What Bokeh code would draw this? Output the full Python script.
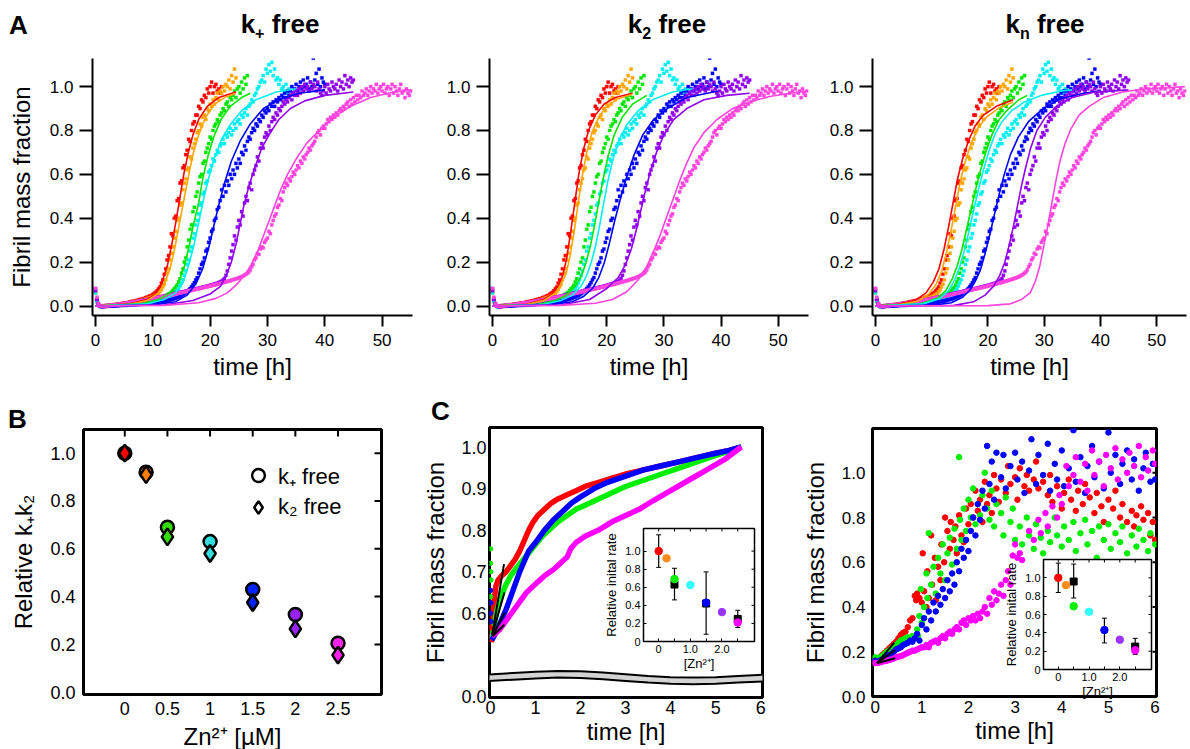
from bokeh.plotting import figure
from bokeh.models import (Range1d, FixedTicker, GridBox, Column, Div, ColumnDataSource,
                          Whisker, Legend, LegendItem)
from bokeh.embed import file_html
from bokeh.resources import INLINE

FONT = "Liberation Sans"

# ---------------- Panel A : aggregation kinetics (sampled every 0.25 h) ----------------
SAMPLE_STEP_H = 0.25
A_NAMES = ["0", "0.25", "0.5", "1", "1.5", "2", "2.5"]
A_COLORS = ["#ff0000", "#ffa500", "#00e600", "#00f0f0", "#0000ff", "#9000ee", "#ff44dd"]

a_red = [0.07,0.03,0.01,0.00, 0.00,-0.005,0.00,0.002, 0.00,0.003,0.004,0.002, 0.005,0.006,0.004,0.008,
         0.009,0.010,0.008,0.012, 0.013,0.012,0.016,0.015, 0.019,0.018,0.022,0.021, 0.025,0.024,0.028,0.030,
         0.031,0.034,0.033,0.038, 0.040,0.042,0.046,0.048, 0.053,0.058,0.062,0.070, 0.078,0.088,0.105,0.120,
         0.145,0.17,0.21,0.23, 0.27,0.33,0.32,0.40, 0.41,0.48,0.49,0.56, 0.57,0.63,0.64,0.69,
         0.71,0.76,0.75,0.80, 0.83,0.84,0.87,0.87, 0.91,0.90,0.94,0.93, 0.96,0.95,0.99,0.97,
         1.00,1.02,0.97,1.00, 1.01,0.98,0.99,0.97, 1.00]
a_orange = [0.06,0.02,0.005,0.00, -0.004,0.00,0.001,0.00, 0.002,0.001,0.003,0.004, 0.004,0.005,0.006,0.006,
            0.007,0.008,0.009,0.009, 0.010,0.011,0.012,0.013, 0.014,0.015,0.017,0.018, 0.019,0.021,0.022,0.024,
            0.025,0.027,0.029,0.031, 0.033,0.035,0.037,0.040, 0.042,0.045,0.049,0.053, 0.058,0.066,0.075,0.088,
            0.10,0.12,0.15,0.17, 0.21,0.24,0.27,0.31, 0.34,0.39,0.40,0.46, 0.47,0.53,0.56,0.58,
            0.62,0.63,0.68,0.67, 0.72,0.74,0.76,0.79, 0.80,0.83,0.82,0.86, 0.87,0.85,0.90,0.89,
            0.92,0.91,0.94,0.92, 0.95,0.97,0.94,0.98, 0.97,1.00,0.98,1.01, 1.00,1.03,0.99,1.05,
            1.02,1.08,1.04]
a_green = [0.065,0.025,0.008,0.00, 0.00,-0.003,0.00,0.001, 0.00,0.002,0.001,0.003, 0.003,0.004,0.004,0.005,
           0.005,0.006,0.007,0.007, 0.008,0.009,0.010,0.010, 0.011,0.012,0.013,0.014, 0.015,0.016,0.017,0.018,
           0.019,0.020,0.021,0.022, 0.023,0.024,0.026,0.027, 0.028,0.030,0.031,0.033, 0.034,0.036,0.038,0.040,
           0.043,0.046,0.050,0.054, 0.058,0.063,0.070,0.078, 0.085,0.095,0.11,0.125, 0.15,0.17,0.20,0.22,
           0.27,0.30,0.35,0.37, 0.43,0.45,0.50,0.52, 0.56,0.59,0.60,0.65, 0.66,0.70,0.72,0.74,
           0.77,0.76,0.80,0.82, 0.83,0.85,0.84,0.87, 0.88,0.90,0.89,0.92, 0.93,0.91,0.95,0.94,
           0.96,0.98,0.95,0.99, 1.00,0.97,1.02,0.99, 1.04,1.01,1.05]
a_cyan = [0.06,0.02,0.005,0.00, -0.005,0.00,-0.002,0.00, 0.001,0.00,0.002,0.002, 0.003,0.003,0.004,0.004,
          0.005,0.005,0.006,0.006, 0.007,0.007,0.008,0.009, 0.009,0.010,0.011,0.011, 0.012,0.013,0.014,0.014,
          0.015,0.016,0.017,0.018, 0.019,0.020,0.021,0.022, 0.023,0.024,0.025,0.026, 0.027,0.028,0.029,0.030,
          0.032,0.034,0.036,0.038, 0.041,0.045,0.050,0.055, 0.062,0.070,0.080,0.092, 0.105,0.12,0.14,0.16,
          0.19,0.21,0.25,0.27, 0.31,0.33,0.37,0.39, 0.42,0.46,0.47,0.51, 0.52,0.56,0.57,0.61,
          0.62,0.64,0.67,0.66, 0.69,0.71,0.70,0.73, 0.74,0.76,0.74,0.78, 0.77,0.79,0.81,0.78,
          0.80,0.83,0.81,0.84, 0.85,0.83,0.87,0.86, 0.88,0.90,0.87,0.91, 0.92,0.94,0.93,0.96,
          0.97,0.99,1.00,1.02, 1.03,1.05,1.02,1.08, 1.06,1.10,1.07,1.11, 1.05,1.08,1.03,1.04,
          1.01,1.03,0.99,1.00, 0.98,1.01,0.97,0.99, 0.98]
a_blue = [0.08,0.03,0.01,0.00, 0.00,-0.004,0.00,0.00, 0.00,0.001,0.00,0.001, 0.001,0.001,0.002,0.002,
          0.002,0.003,0.003,0.003, 0.004,0.004,0.004,0.005, 0.005,0.005,0.006,0.006, 0.007,0.007,0.008,0.008,
          0.009,0.009,0.010,0.010, 0.011,0.012,0.012,0.013, 0.014,0.015,0.016,0.017, 0.018,0.019,0.020,0.021,
          0.022,0.024,0.025,0.027, 0.028,0.030,0.032,0.034, 0.036,0.039,0.042,0.045, 0.048,0.052,0.056,0.061,
          0.066,0.072,0.080,0.088, 0.097,0.107,0.12,0.13, 0.15,0.17,0.19,0.20, 0.22,0.25,0.26,0.29,
          0.31,0.34,0.35,0.39, 0.40,0.44,0.45,0.48, 0.53,0.50,0.55,0.52, 0.57,0.55,0.60,0.58,
          0.62,0.60,0.65,0.63, 0.67,0.65,0.70,0.69, 0.73,0.71,0.75,0.77, 0.76,0.79,0.81,0.80,
          0.83,0.82,0.85,0.84, 0.87,0.86,0.89,0.88, 0.90,0.89,0.92,0.91, 0.93,0.91,0.94,0.93,
          0.95,0.94,0.96,0.95, 0.97,0.95,0.98,0.96, 0.98,1.00,0.97,0.99, 1.01,0.98,1.00,1.02,
          0.99,1.03,1.00,1.01, 1.04,0.99,1.02,1.00, 1.13,1.03,1.06,1.01, 1.08,1.00,1.04,1.02, 1.01]
a_purple = [0.07,0.03,0.01,0.00, 0.00,0.00,-0.003,0.00, 0.001,0.002,0.002,0.003, 0.004,0.005,0.005,0.006,
            0.007,0.008,0.009,0.010, 0.011,0.012,0.013,0.014, 0.015,0.016,0.017,0.018, 0.019,0.020,0.021,0.022,
            0.024,0.025,0.026,0.027, 0.029,0.030,0.031,0.033, 0.034,0.035,0.037,0.038, 0.040,0.041,0.042,0.044,
            0.045,0.047,0.048,0.050, 0.051,0.053,0.054,0.056, 0.057,0.059,0.060,0.062, 0.063,0.065,0.066,0.068,
            0.069,0.071,0.072,0.074, 0.075,0.077,0.078,0.080, 0.081,0.083,0.084,0.086, 0.087,0.089,0.091,0.092,
            0.094,0.096,0.098,0.100, 0.102,0.104,0.107,0.110, 0.113,0.118,0.125,0.14, 0.16,0.19,0.22,0.25,
            0.28,0.32,0.30,0.36, 0.39,0.37,0.43,0.41, 0.47,0.50,0.48,0.54, 0.56,0.53,0.60,0.62,
            0.64,0.68,0.66,0.72, 0.74,0.72,0.77,0.79, 0.78,0.82,0.80,0.84, 0.86,0.85,0.88,0.87,
            0.90,0.89,0.91,0.93, 0.92,0.94,0.93,0.95, 0.96,0.94,0.97,0.96, 0.98,0.96,0.99,0.97,
            1.00,0.98,1.01,0.99, 1.00,0.98,1.02,0.99, 1.01,1.00,0.98,1.02, 0.99,0.97,0.96,0.98,
            1.00,0.97,1.01,0.99, 0.98,1.02,1.00,0.99, 1.01,0.98,1.03,1.00, 1.02,0.99,1.05,1.01,
            1.03,1.00,1.04,1.02, 1.03]
a_magenta = [0.08,0.04,0.012,0.00, 0.00,-0.003,0.00,0.001, 0.002,0.002,0.003,0.004, 0.004,0.005,0.006,0.006,
             0.007,0.008,0.009,0.010, 0.011,0.012,0.013,0.014, 0.015,0.016,0.017,0.018, 0.019,0.020,0.021,0.022,
             0.023,0.024,0.025,0.027, 0.028,0.029,0.030,0.032, 0.033,0.034,0.036,0.037, 0.038,0.040,0.041,0.042,
             0.044,0.045,0.047,0.048, 0.049,0.051,0.052,0.054, 0.055,0.057,0.058,0.060, 0.061,0.063,0.064,0.066,
             0.067,0.069,0.070,0.072, 0.073,0.075,0.076,0.078, 0.079,0.081,0.082,0.084, 0.085,0.087,0.088,0.090,
             0.091,0.093,0.095,0.096, 0.098,0.100,0.101,0.103, 0.105,0.107,0.108,0.110, 0.112,0.114,0.116,0.118,
             0.120,0.122,0.124,0.126, 0.128,0.131,0.134,0.137, 0.141,0.145,0.150,0.155, 0.165,0.18,0.19,0.21,
             0.22,0.24,0.235,0.26, 0.27,0.265,0.29,0.30, 0.31,0.34,0.33,0.37, 0.39,0.41,0.42,0.45,
             0.46,0.49,0.48,0.52, 0.54,0.56,0.55,0.58, 0.57,0.59,0.61,0.60, 0.62,0.64,0.63,0.66,
             0.65,0.68,0.67,0.69, 0.70,0.72,0.71,0.73, 0.74,0.75,0.77,0.79, 0.80,0.78,0.81,0.82,
             0.81,0.83,0.85,0.84, 0.86,0.85,0.87,0.86, 0.88,0.87,0.89,0.90, 0.89,0.91,0.90,0.92,
             0.93,0.91,0.94,0.92, 0.95,0.93,0.96,0.94, 0.96,0.95,0.98,0.96, 0.97,0.99,0.96,0.98,
             1.00,0.97,0.99,0.98, 1.01,0.97,0.99,1.00, 0.98,1.01,0.97,0.99, 1.00,0.96,0.99,1.01,
             0.97,1.00,0.98,0.96, 0.99,1.01,0.97,0.98, 0.95,0.99,0.97,0.96, 0.98]
A_DATA = [a_red, a_orange, a_green, a_cyan, a_blue, a_purple, a_magenta]

# fitted curves (time knots, value) for each panel; order red..magenta
fit_kplus = [
    ([0,6,9,10.5,11.5,12.5,13.3,14,14.7,15.4,16.2,17,18,19.5,21.5,24.5],
     [0,0.01,0.03,0.055,0.1,0.18,0.28,0.38,0.49,0.6,0.7,0.78,0.85,0.91,0.95,0.975]),
    ([0,6,9,11,12,13,13.8,14.6,15.4,16.2,17,18,19.2,20.8,22.5,24.5],
     [0,0.008,0.025,0.06,0.1,0.17,0.26,0.37,0.48,0.59,0.69,0.78,0.86,0.92,0.95,0.97]),
    ([0,8,11,13,14.5,15.5,16.3,17,18,18.7,19.6,20.6,21.9,23.5,25.5,27],
     [0,0.01,0.03,0.06,0.11,0.18,0.27,0.36,0.47,0.58,0.68,0.77,0.85,0.91,0.95,0.97]),
    ([0,9,12,14,15.3,16.3,17.2,18,18.8,19.7,20.7,22,23.6,25.5,28,31.5,35],
     [0,0.01,0.03,0.06,0.11,0.19,0.28,0.38,0.48,0.58,0.67,0.76,0.83,0.89,0.94,0.975,0.99]),
    ([0,10,14,16,17.5,18.7,19.7,20.6,21.5,22.5,23.7,25.2,27,29.3,32,35.5,40],
     [0,0.005,0.02,0.05,0.1,0.17,0.26,0.36,0.46,0.56,0.66,0.75,0.83,0.9,0.94,0.97,0.985]),
    ([0,12,17,20,21.8,22.8,23.7,24.5,25.2,25.9,26.8,27.8,29,30.5,32,34,36.5,40,45],
     [0,0.005,0.025,0.055,0.09,0.14,0.2,0.28,0.37,0.46,0.55,0.63,0.72,0.79,0.85,0.9,0.935,0.96,0.975]),
    ([0,12,18,21,23,24.7,26,27.2,28.3,29.3,30.3,31.3,32.3,33.5,35,36.8,39,41.5,44.5,48,52,55],
     [0,0.003,0.015,0.035,0.06,0.1,0.14,0.19,0.25,0.32,0.39,0.46,0.53,0.6,0.67,0.74,0.8,0.86,0.91,0.95,0.975,0.985]),
]
fit_k2 = [
    ([0,6,9,10.5,11.5,12.3,13,13.7,14.4,15.1,15.9,16.8,18,19.5,21.5,24.5],
     [0,0.008,0.03,0.055,0.09,0.14,0.22,0.34,0.47,0.6,0.71,0.8,0.87,0.92,0.95,0.97]),
    ([0,6,9,11,12,12.9,13.6,14.3,15,15.7,16.5,17.4,18.6,20,22,24.5],
     [0,0.007,0.025,0.06,0.1,0.15,0.23,0.34,0.47,0.59,0.7,0.79,0.86,0.91,0.945,0.965]),
    ([0,8,11,13,14.5,15.6,16.4,17.1,17.8,18.5,19.3,20.2,21.3,22.7,24.5,27],
     [0,0.008,0.025,0.05,0.09,0.14,0.2,0.27,0.36,0.46,0.57,0.68,0.78,0.86,0.92,0.96]),
    ([0,9,12,14,15.5,16.5,17.3,18,18.7,19.4,20.2,21.1,22.2,23.6,25.5,28,31.5,35],
     [0,0.008,0.025,0.05,0.09,0.14,0.2,0.27,0.36,0.46,0.57,0.67,0.76,0.83,0.89,0.94,0.975,0.99]),
    ([0,10,14,16,17.5,18.6,19.6,20.5,21.4,22.4,23.5,24.8,26.3,28.2,30.6,34,39.5],
     [0,0.005,0.02,0.045,0.08,0.13,0.2,0.29,0.39,0.49,0.59,0.69,0.78,0.85,0.9,0.95,0.98]),
    ([0,12,17,20,22,23.3,24.3,25.2,26,26.8,27.7,28.7,30,31.7,34,37,41,45],
     [0,0.005,0.03,0.08,0.13,0.19,0.26,0.35,0.44,0.53,0.62,0.7,0.78,0.85,0.9,0.94,0.96,0.97]),
    ([0,12,18,21,23.5,25.5,27,28.2,29.3,30.4,31.5,32.6,33.8,35.2,37,39.3,42,45,48.5,52,55],
     [0,0.003,0.013,0.03,0.065,0.12,0.18,0.25,0.32,0.4,0.48,0.56,0.64,0.72,0.79,0.85,0.9,0.93,0.955,0.97,0.98]),
]
fit_kn = [
    ([0,4,7,9,10.3,11.3,12.2,13,13.8,14.6,15.5,16.5,17.7,19.2,21.5,24.5],
     [0,0.008,0.025,0.06,0.11,0.17,0.26,0.36,0.47,0.58,0.67,0.75,0.82,0.87,0.91,0.94]),
    ([0,4,7.5,9.5,10.8,11.8,12.7,13.5,14.3,15.1,16,17,18.2,19.7,21.8,24.5],
     [0,0.006,0.022,0.055,0.1,0.16,0.25,0.35,0.46,0.57,0.66,0.74,0.81,0.86,0.9,0.93]),
    ([0,8,11,12.5,13.6,14.5,15.4,16.2,17,17.8,18.7,19.6,20.7,22,23.7,25.5,27],
     [0,0.01,0.035,0.07,0.12,0.18,0.26,0.35,0.44,0.53,0.62,0.7,0.78,0.85,0.9,0.94,0.96]),
    ([0,8.5,11.5,13,14.1,15,15.9,16.7,17.5,18.3,19.2,20.1,21.2,22.5,24.2,26.5,29.5,33,35],
     [0,0.01,0.035,0.07,0.12,0.18,0.26,0.35,0.44,0.53,0.62,0.7,0.78,0.84,0.89,0.93,0.96,0.98,0.985]),
    ([0,10,13.5,15.5,16.7,17.7,18.6,19.4,20.2,21,21.9,22.9,24,25.4,27.2,29.8,33,37,40],
     [0,0.003,0.015,0.04,0.07,0.11,0.16,0.23,0.31,0.4,0.5,0.6,0.69,0.77,0.84,0.9,0.945,0.97,0.98]),
    ([0,14,17.5,19.5,21,22.1,23,23.8,24.5,25.2,25.9,26.7,27.6,28.7,30.2,32.2,35,39,45],
     [0,0.003,0.02,0.05,0.09,0.14,0.2,0.28,0.36,0.45,0.54,0.63,0.72,0.8,0.86,0.91,0.95,0.975,0.985]),
    ([0,20,24,26,27.5,28.4,29.2,29.9,30.6,31.3,32,32.8,33.7,34.8,36.2,38,40.5,44,48,52,55],
     [0,0.002,0.01,0.03,0.06,0.11,0.18,0.27,0.36,0.46,0.56,0.66,0.74,0.81,0.87,0.91,0.95,0.975,0.99,0.995,1.0]),
]
A_X_TICKS = [0, 10, 20, 30, 40, 50]
A_Y_TICKS = [0.0, 0.2, 0.4, 0.6, 0.8, 1.0]

# ---------------- Panel B ----------------
zn_conc = [0, 0.25, 0.5, 1.0, 1.5, 2.0, 2.5]
rel_kplus_free = [1.0, 0.92, 0.69, 0.63, 0.43, 0.325, 0.205]
rel_k2_free = [1.0, 0.91, 0.65, 0.58, 0.375, 0.265, 0.155]
B_COLORS = ["#ff0000", "#ff8000", "#33dd00", "#33dddd", "#0022ff", "#9922ee", "#ff22ee"]
B_X_TICKS = [0, 0.5, 1.0, 1.5, 2.0, 2.5]
B_X_LABELS = ["0", "0.5", "1", "1.5", "2", "2.5"]

# ---------------- Panel C ----------------
C_COLORS = {"red": "#ff0000", "green": "#00ee00", "blue": "#0000ff", "magenta": "#ff00ff"}
cl_red_t = [0.02,0.05,0.08,0.12,0.17,0.25,0.35,0.45,0.55,0.65,0.75,0.85,0.95,1.05,1.2,1.35,1.5,1.7,1.9,2.1,2.4,2.7,3.0,3.4,3.8,4.2,4.6,5.0,5.3,5.57]
cl_red_v = [0.53,0.57,0.63,0.665,0.68,0.69,0.70,0.715,0.73,0.75,0.775,0.80,0.82,0.835,0.85,0.865,0.875,0.885,0.895,0.905,0.915,0.925,0.935,0.945,0.955,0.965,0.975,0.985,0.992,1.0]
cl_green_t = [0.03,0.08,0.15,0.25,0.35,0.45,0.55,0.7,0.85,1.0,1.15,1.3,1.5,1.7,1.9,2.1,2.4,2.7,3.0,3.4,3.8,4.2,4.6,5.0,5.3,5.57]
cl_green_v = [0.54,0.57,0.61,0.645,0.67,0.69,0.705,0.725,0.745,0.765,0.785,0.80,0.82,0.835,0.85,0.86,0.875,0.89,0.905,0.92,0.935,0.95,0.965,0.98,0.99,1.0]
cl_blue_t = [0.03,0.08,0.15,0.25,0.35,0.45,0.55,0.65,0.75,0.85,1.0,1.2,1.4,1.6,1.8,2.0,2.3,2.6,3.0,3.4,3.8,4.2,4.6,5.0,5.3,5.57]
cl_blue_v = [0.535,0.545,0.56,0.585,0.61,0.64,0.67,0.70,0.725,0.75,0.77,0.80,0.825,0.845,0.865,0.88,0.90,0.915,0.93,0.945,0.955,0.965,0.975,0.985,0.992,1.0]
cl_magenta_t = [0.03,0.1,0.2,0.3,0.4,0.5,0.6,0.7,0.8,0.9,1.0,1.2,1.4,1.6,1.7,1.78,1.9,2.1,2.4,2.7,3.0,3.3,3.6,4.0,4.4,4.8,5.2,5.57]
cl_magenta_v = [0.545,0.55,0.56,0.575,0.59,0.605,0.62,0.635,0.65,0.66,0.67,0.69,0.705,0.725,0.735,0.755,0.77,0.785,0.80,0.82,0.835,0.85,0.87,0.895,0.92,0.945,0.97,1.0]
cl_dots_t = [0.0, 0.0, 0.005, 0.01, 0.0, 0.0, 0.005, 0.0, 0.01, 0.0]
cl_dots_v = [0.755, 0.72, 0.70, 0.68, 0.64, 0.655, 0.625, 0.60, 0.58, 0.565]
cl_dots_c = ["green", "green", "green", "green", "green", "blue", "blue", "blue", "blue", "red"]
cl_fit_t0 = [0.04, 0.04, 0.05, 0.05]
cl_fit_v0 = [0.549, 0.549, 0.545, 0.545]
cl_fit_t1 = [0.30, 0.31, 0.31, 0.31]
cl_fit_v1 = [0.718, 0.65, 0.601, 0.572]
C_LEFT_Y_TICKS = [0.40, 0.6, 0.7, 0.8, 0.9, 1.0]
C_LEFT_Y_LABELS = ["0.0", "0.6", "0.7", "0.8", "0.9", "1.0"]
break_t = [-0.1, 0.5, 1.0, 1.5, 2.0, 2.5, 3.0, 3.5, 4.0, 4.5, 5.0, 5.5, 6.1]
break_top = [0.452, 0.456, 0.459, 0.461, 0.460, 0.457, 0.453, 0.449, 0.446, 0.445, 0.446, 0.449, 0.452]
BREAK_GAP = 0.016

cr_red_t = [0,0.05,0.1,0.15,0.2,0.25,0.3,0.35,0.4,0.45,0.5,0.55,0.6,0.65,0.7,0.75,
            0.8,0.85,0.88,0.9,0.95,1.0,1.02,1.05,1.1,1.12,1.15,1.2,1.22,1.28,1.3,1.35,1.4,1.42,1.48,1.5,
            1.55,1.6,1.62,1.68,1.72,1.75,1.8,1.85,1.9,1.95,2.0,2.05,2.1,2.15,2.2,2.25,2.3,2.35,2.4,2.45,
            2.5,2.55,2.6,2.65,2.7,2.8,2.85,2.9,3.0,3.05,3.1,3.2,3.25,3.3,3.4,3.45,3.5,3.6,3.7,3.75,3.8,
            3.9,4.0,4.05,4.15,4.2,4.3,4.35,4.45,4.5,4.6,4.7,4.75,4.85,4.9,5.0,5.1,5.15,5.25,5.3,5.4,5.5,
            5.55,5.6,5.7,5.75,5.85,5.9,5.95,6.0]
cr_red_v = [0.16,0.165,0.175,0.185,0.195,0.205,0.215,0.225,0.235,0.245,0.26,0.275,0.285,0.29,0.31,0.34,
            0.35,0.45,0.43,0.46,0.44,0.42,0.64,0.47,0.40,0.56,0.44,0.72,0.50,0.62,0.43,0.58,0.52,0.68,0.60,0.80,
            0.74,0.66,0.78,0.70,0.76,0.64,0.81,0.72,0.69,0.84,0.77,0.86,0.80,0.92,0.83,0.88,0.78,0.96,0.86,0.90,
            0.82,0.99,0.93,0.87,0.97,0.91,1.03,0.95,0.98,0.88,1.02,0.94,0.99,0.92,0.97,1.05,0.93,0.96,0.90,0.99,0.87,
            0.94,0.84,0.91,0.97,0.88,0.83,0.92,0.86,0.95,0.89,0.82,0.91,0.85,0.78,0.88,0.84,0.92,0.80,0.86,0.78,0.83,
            0.76,0.81,0.85,0.79,0.82,0.72,0.78,0.70]
cr_green_t = [0,0.05,0.1,0.15,0.2,0.25,0.3,0.35,0.4,0.45,0.5,0.55,0.6,0.65,0.7,0.75,0.8,0.85,
              0.9,0.92,0.95,0.98,1.0,1.05,1.1,1.12,1.15,1.2,1.25,1.3,1.35,1.4,1.45,1.5,1.55,1.6,1.65,1.7,1.75,
              1.8,1.82,1.85,1.9,1.95,2.0,2.05,2.1,2.15,2.2,2.25,2.3,2.35,2.4,2.45,2.5,2.55,2.6,2.7,2.75,2.8,
              2.9,2.95,3.0,3.1,3.15,3.25,3.3,3.4,3.45,3.55,3.6,3.7,3.75,3.85,3.9,4.0,4.05,4.15,4.25,4.3,4.4,
              4.5,4.55,4.65,4.75,4.8,4.9,5.0,5.05,5.15,5.25,5.3,5.4,5.5,5.6,5.65,5.75,5.85,5.9,6.0]
cr_green_v = [0.175,0.17,0.175,0.18,0.19,0.2,0.205,0.215,0.22,0.23,0.24,0.25,0.255,0.26,0.265,0.26,0.27,0.265,
              0.30,0.27,0.36,0.48,0.33,0.40,0.55,0.44,0.73,0.50,0.58,0.46,0.62,0.55,0.68,0.52,0.64,0.71,0.59,0.75,0.66,
              1.07,0.79,0.70,0.84,0.74,0.88,0.80,0.93,0.77,0.86,0.81,0.90,1.00,0.84,0.79,0.92,0.76,0.86,0.82,0.72,0.89,
              0.78,0.84,0.70,0.76,0.68,0.80,0.72,0.66,0.77,0.71,0.64,0.74,0.69,0.80,0.72,0.67,0.76,0.70,0.78,0.65,0.73,
              0.79,0.68,0.74,0.62,0.76,0.70,0.77,0.66,0.73,0.69,0.76,0.64,0.72,0.67,0.75,0.70,0.65,0.73,0.68]
cr_blue_t = [0,0.05,0.1,0.15,0.2,0.25,0.3,0.35,0.4,0.45,0.5,0.55,0.6,0.65,0.7,0.75,0.8,0.85,0.9,
             0.95,1.0,1.05,1.1,1.15,1.2,1.25,1.3,1.35,1.4,1.45,1.5,1.55,1.6,1.65,1.7,1.75,1.8,1.85,1.9,1.95,
             2.0,2.05,2.1,2.15,2.2,2.25,2.3,2.35,2.4,2.45,2.5,2.55,2.6,2.7,2.75,2.8,2.9,3.0,3.05,3.15,3.2,
             3.3,3.35,3.45,3.5,3.6,3.7,3.75,3.85,3.9,4.0,4.05,4.15,4.25,4.3,4.4,4.5,4.55,4.65,4.7,4.8,4.9,
             5.0,5.05,5.15,5.25,5.3,5.4,5.5,5.55,5.65,5.75,5.8,5.9,5.95,6.0]
cr_blue_v = [0.16,0.155,0.16,0.165,0.17,0.18,0.185,0.19,0.2,0.21,0.215,0.22,0.23,0.235,0.24,0.25,0.245,0.26,0.28,
             0.25,0.32,0.35,0.30,0.38,0.34,0.42,0.38,0.45,0.41,0.48,0.44,0.52,0.47,0.55,0.50,0.60,0.56,0.66,0.62,0.70,
             0.65,0.74,0.80,0.72,0.86,0.79,0.92,0.84,1.12,0.95,1.05,0.88,1.09,0.98,1.08,0.93,1.03,1.09,0.97,1.05,0.91,
             1.01,1.15,0.95,1.08,0.99,1.13,0.92,1.04,0.97,1.10,0.94,1.02,1.19,0.96,1.07,0.91,1.03,1.12,0.98,1.05,0.93,
             1.18,1.00,1.08,0.95,1.04,1.10,0.97,1.06,0.92,1.02,1.09,0.96,1.04,0.97]
cr_magenta_t = [0,0.05,0.1,0.15,0.2,0.25,0.3,0.35,0.4,0.45,0.5,0.55,0.6,0.65,0.7,0.75,0.8,0.85,0.9,0.95,1.0,
                1.05,1.1,1.15,1.2,1.25,1.3,1.35,1.4,1.45,1.5,1.55,1.6,1.65,1.7,1.75,1.8,1.85,1.9,1.95,2.0,2.05,
                2.1,2.15,2.2,2.25,2.3,2.35,2.4,2.45,2.5,2.55,2.6,2.65,2.7,2.75,2.8,2.85,2.9,2.95,3.0,3.05,3.1,3.15,
                3.3,3.4,3.5,3.55,3.65,3.7,3.8,3.9,3.95,4.0,4.1,4.15,4.25,4.3,4.4,4.5,4.55,4.65,4.7,4.8,4.9,4.95,
                5.05,5.15,5.2,5.3,5.4,5.45,5.55,5.65,5.7,5.8,5.85,5.95,6.0]
cr_magenta_v = [0.15,0.15,0.152,0.155,0.158,0.16,0.163,0.166,0.17,0.175,0.178,0.18,0.185,0.19,0.195,0.2,0.205,0.205,0.21,0.215,0.22,
                0.22,0.23,0.22,0.24,0.245,0.25,0.24,0.26,0.27,0.26,0.28,0.29,0.28,0.30,0.31,0.30,0.33,0.34,0.32,0.35,0.34,
                0.36,0.34,0.37,0.35,0.38,0.40,0.37,0.44,0.41,0.47,0.43,0.46,0.50,0.45,0.52,0.56,0.50,0.63,0.68,0.62,0.64,0.61,
                0.74,0.70,0.79,0.73,0.82,0.76,0.85,0.80,0.90,0.86,1.03,0.94,0.99,1.07,0.96,1.04,0.92,1.10,0.99,1.05,0.94,1.08,
                1.02,1.11,0.97,1.06,1.00,1.09,1.03,1.12,0.98,1.07,1.01,1.10,1.04]
cr_fit_t0 = [0.04, 0.04, 0.05]
cr_fit_v0 = [0.149, 0.149, 0.15]
cr_fit_t1 = [0.41, 0.43, 0.43]
cr_fit_v1 = [0.241, 0.208, 0.171]
C_RIGHT_Y_TICKS = [0.0, 0.2, 0.4, 0.6, 0.8, 1.0]
C_X_TICKS = [0, 1, 2, 3, 4, 5, 6]

INSET_COLORS = ["#ff0000", "#ff8c1a", "#00ee00", "#33ffff", "#0000ff", "#9933ff", "#ff00ff"]
inset_zn = [0, 0.25, 0.5, 1.0, 1.5, 2.0, 2.5]
insL_rate = [1.0, 0.92, 0.69, 0.625, 0.43, 0.325, 0.21]
insL_err_x = [0]
insL_err_lo = [0.82]
insL_err_hi = [1.18]
insL_sq_x = [0.5, 1.5, 2.5]
insL_sq_y = [0.63, 0.42, 0.25]
insL_sq_lo = [0.46, 0.08, 0.155]
insL_sq_hi = [0.81, 0.77, 0.345]
insR_rate = [1.0, 0.92, 0.69, 0.63, 0.43, 0.325, 0.21]
insR_err_x = [0, 1.5]
insR_err_lo = [0.84, 0.29]
insR_err_hi = [1.16, 0.56]
insR_sq_x = [0.5, 2.5]
insR_sq_y = [0.96, 0.25]
insR_sq_lo = [0.78, 0.165]
insR_sq_hi = [1.15, 0.34]
INSET_X_TICKS = [0, 0.5, 1.0, 1.5, 2.0, 2.5]
INSET_X_LABELS = ["0", "", "1.0", "", "2.0", ""]
INSET_Y_TICKS = [0.0, 0.2, 0.4, 0.6, 0.8, 1.0]
INSET_Y_LABELS = ["0", "0.2", "0.4", "0.6", "0.8", "1.0"]

PAGE = 0  # offset of the layout origin on the page
placed = []


def base_fig(fl, ft, fw, fh, xr, yr, bl, bt, br, bb):
    p = figure(frame_width=fw, frame_height=fh, x_range=Range1d(*xr), y_range=Range1d(*yr),
               output_backend="svg", toolbar_location=None,
               min_border_left=bl, min_border_top=bt, min_border_right=br, min_border_bottom=bb)
    p.background_fill_alpha = 0
    p.border_fill_alpha = 0
    p.xgrid.visible = False
    p.ygrid.visible = False
    p.outline_line_color = None
    p.extra_x_ranges = {"px": Range1d(0, fw)}
    p.extra_y_ranges = {"py": Range1d(0, fh)}
    p._geom = (fw, fh)
    placed.append(Column(children=[p], margin=(ft - PAGE - bt, 0, 0, fl - PAGE - bl)))
    return p


def style_axis(ax, size, lab_size, tin, tout, lw, standoff=5, lab_standoff=5):
    ax.major_label_text_font = FONT
    ax.major_label_text_font_size = f"{size}px"
    ax.major_label_text_color = "black"
    ax.axis_label_text_font = FONT
    ax.axis_label_text_font_size = f"{lab_size}px"
    ax.axis_label_text_font_style = "normal"
    ax.axis_label_text_color = "black"
    ax.major_tick_in = tin
    ax.major_tick_out = tout
    ax.minor_tick_line_color = None
    ax.axis_line_width = lw
    ax.major_tick_line_width = lw
    ax.axis_line_color = "black"
    ax.major_tick_line_color = "black"
    ax.major_label_standoff = standoff
    ax.axis_label_standoff = lab_standoff


def mirror_ticks(p, side, ticks, length, lw):
    """inward tick marks on the top or right frame edge (pixel-unit helper range)"""
    fw, fh = p._geom
    n = len(ticks)
    if side == "above":
        p.segment(x0=ticks, x1=ticks, y0=[fh] * n, y1=[fh - length] * n, y_range_name="py",
                  line_color="black", line_width=lw)
    else:
        p.segment(x0=[fw] * n, x1=[fw - length] * n, y0=ticks, y1=ticks, x_range_name="px",
                  line_color="black", line_width=lw)


def div(html, left, top, w, h):
    d = Div(text=html, width=w, height=h, margin=(top - PAGE, 0, 0, left - PAGE))
    placed.append(d)
    return d


# ---------- Panel A ----------
A_FRAMES = [(92, 320, fit_kplus, "Fibril mass fraction", 92),
            (489, 319, fit_k2, None, 70),
            (872, 314, fit_kn, None, 70)]
for fl, fw, fits, ylab, bl in A_FRAMES:
    p = base_fig(fl, 58, fw, 257, (-0.52, 55.3), (-0.043, 1.128), bl=bl, bt=10, br=2, bb=80)
    for vals, col in zip(A_DATA, A_COLORS):
        tt = [i * SAMPLE_STEP_H for i in range(len(vals))]
        p.scatter(tt, vals, marker="square", size=3.2, fill_color=col, line_color=col, line_width=0.3)
    for (ft_, fv_), col in zip(fits, A_COLORS):
        p.line(ft_, fv_, line_color=col, line_width=1.6)
    p.xaxis.ticker = FixedTicker(ticks=A_X_TICKS)
    p.yaxis.ticker = FixedTicker(ticks=A_Y_TICKS)
    p.yaxis.major_label_overrides = {v: f"{v:.1f}" for v in A_Y_TICKS}
    p.xaxis.axis_label = "time [h]"
    style_axis(p.xaxis[0], 17, 24, 0, 11, 2, standoff=7, lab_standoff=4)
    style_axis(p.yaxis[0], 17, 24, 0, 13, 2, standoff=6, lab_standoff=12)
    if ylab:
        p.yaxis.axis_label = ylab

# ---------- Panel B ----------
pb = base_fig(83, 429, 298, 265, (-0.484, 3.01), (-0.0096, 1.099), bl=83, bt=8, br=8, bb=54)
pb.outline_line_color = "black"
pb.outline_line_width = 3
pb.scatter(zn_conc, rel_kplus_free, marker="circle", size=13, fill_color=B_COLORS,
           line_color="black", line_width=2.5)
pb.scatter(zn_conc, rel_k2_free, marker="diamond", size=17, fill_color=B_COLORS,
           line_color="black", line_width=2.5)
nan = float("nan")
lc = pb.scatter([nan], [nan], marker="circle", size=13, fill_color="white", line_color="black", line_width=2.5)
ld = pb.scatter([nan], [nan], marker="diamond", size=17, fill_color="white", line_color="black", line_width=2.5)
leg = Legend(items=[LegendItem(label="k\u208a free", renderers=[lc]),
                    LegendItem(label="k\u2082 free", renderers=[ld])],
             location=(159, 171), label_text_font=FONT, label_text_font_size="22px",
             label_text_color="black",
             glyph_width=32, glyph_height=32, label_height=32, spacing=0, padding=0, margin=0,
             label_standoff=4, border_line_color=None, background_fill_alpha=0)
pb.add_layout(leg)
pb.xaxis.ticker = FixedTicker(ticks=B_X_TICKS)
pb.xaxis.major_label_overrides = dict(zip(B_X_TICKS, B_X_LABELS))
pb.yaxis.ticker = FixedTicker(ticks=A_Y_TICKS)
pb.yaxis.major_label_overrides = {v: f"{v:.1f}" for v in A_Y_TICKS}
pb.xaxis.axis_label = "Zn\u00b2\u207a [\u00b5M]"
pb.yaxis.axis_label = "Relative k\u208ak\u2082"
style_axis(pb.xaxis[0], 18, 24, 0, 0, 3, standoff=7, lab_standoff=5)
style_axis(pb.yaxis[0], 18, 24, 0, 0, 3, standoff=8, lab_standoff=10)
pb.xaxis.axis_line_color = None
pb.yaxis.axis_line_color = None
mirror_ticks(pb, "above", B_X_TICKS, 7, 2)
mirror_ticks(pb, "right", A_Y_TICKS[1:], 7, 2)

# ---------- Panel C left ----------
pcl = base_fig(489, 427, 273, 270, (-0.022, 6.04), (0.397, 1.047), bl=88, bt=8, br=8, bb=48)
pcl.outline_line_color = "black"
pcl.outline_line_width = 3
for tt, vv, key in [(cl_red_t, cl_red_v, "red"), (cl_green_t, cl_green_v, "green"),
                    (cl_blue_t, cl_blue_v, "blue"), (cl_magenta_t, cl_magenta_v, "magenta")]:
    pcl.line(tt, vv, line_color=C_COLORS[key], line_width=5.5)
pcl.scatter(cl_dots_t, cl_dots_v, marker="circle", size=4.5,
            color=[C_COLORS[c] for c in cl_dots_c])
pcl.segment(cl_fit_t0, cl_fit_v0, cl_fit_t1, cl_fit_v1, line_color="black", line_width=2)
pcl.varea(x=break_t, y1=[v - BREAK_GAP for v in break_top], y2=break_top, fill_color="#d4d4d4")
pcl.line(break_t, break_top, line_color="black", line_width=2)
pcl.line(break_t, [v - BREAK_GAP for v in break_top], line_color="black", line_width=2)
pcl.xaxis.ticker = FixedTicker(ticks=C_X_TICKS)
pcl.yaxis.ticker = FixedTicker(ticks=C_LEFT_Y_TICKS)
pcl.yaxis.major_label_overrides = dict(zip(C_LEFT_Y_TICKS, C_LEFT_Y_LABELS))
pcl.xaxis.axis_label = "time [h]"
pcl.yaxis.axis_label = "Fibril mass fraction"
style_axis(pcl.xaxis[0], 18, 24, 0, 0, 3, standoff=3, lab_standoff=1)
style_axis(pcl.yaxis[0], 18, 24, 0, 0, 3, standoff=3, lab_standoff=9)
pcl.xaxis.axis_line_color = None
pcl.yaxis.axis_line_color = None

# ---------- Panel C right ----------
pcr = base_fig(872, 428, 284, 268, (-0.056, 6.03), (0.0, 1.198), bl=88, bt=8, br=8, bb=48)
pcr.outline_line_color = "black"
pcr.outline_line_width = 3
for tt, vv, key in [(cr_red_t, cr_red_v, "red"), (cr_green_t, cr_green_v, "green"),
                    (cr_blue_t, cr_blue_v, "blue"), (cr_magenta_t, cr_magenta_v, "magenta")]:
    pcr.scatter(tt, vv, marker="circle", size=5.5, color=C_COLORS[key])
pcr.segment(cr_fit_t0, cr_fit_v0, cr_fit_t1, cr_fit_v1, line_color="black", line_width=2)
pcr.xaxis.ticker = FixedTicker(ticks=C_X_TICKS)
pcr.yaxis.ticker = FixedTicker(ticks=C_RIGHT_Y_TICKS)
pcr.yaxis.major_label_overrides = {v: f"{v:.1f}" for v in C_RIGHT_Y_TICKS}
pcr.xaxis.axis_label = "time [h]"
pcr.yaxis.axis_label = "Fibril mass fraction"
style_axis(pcr.xaxis[0], 17, 24, 0, 0, 3, standoff=4, lab_standoff=1)
style_axis(pcr.yaxis[0], 17, 24, 0, 0, 3, standoff=7, lab_standoff=10)
pcr.xaxis.axis_line_color = None
pcr.yaxis.axis_line_color = None
mirror_ticks(pcr, "right", C_RIGHT_Y_TICKS[1:], 4, 2)


# ---------- insets ----------
def inset(fl, ft, fw, fh, yr, rates, ex, elo, ehi, sx, sy, slo, shi):
    p = base_fig(fl, ft, fw, fh, (-0.48, 3.03), yr, bl=45, bt=4, br=4, bb=36)
    p.background_fill_color = "white"
    p.background_fill_alpha = 1
    p.outline_line_color = "black"
    p.outline_line_width = 1.5
    for xs, los, his in [(ex, elo, ehi), (sx, slo, shi)]:
        w = Whisker(source=ColumnDataSource(dict(x=xs, lo=los, hi=his)), base="x", lower="lo", upper="hi",
                    line_color="black", line_width=1.2)
        w.upper_head.size = 5
        w.lower_head.size = 5
        p.add_layout(w)
    p.scatter(sx, sy, marker="square", size=7, color="black")
    p.scatter(inset_zn, rates, marker="circle", size=7.5, color=INSET_COLORS)
    p.xaxis.ticker = FixedTicker(ticks=INSET_X_TICKS)
    p.xaxis.major_label_overrides = dict(zip(INSET_X_TICKS, INSET_X_LABELS))
    p.yaxis.ticker = FixedTicker(ticks=INSET_Y_TICKS)
    p.yaxis.major_label_overrides = dict(zip(INSET_Y_TICKS, INSET_Y_LABELS))
    p.xaxis.axis_label = "[Zn\u00b2\u207a]"
    p.yaxis.axis_label = "Relative inital rate"
    style_axis(p.xaxis[0], 11, 13, 3, 0, 1, standoff=3, lab_standoff=0)
    style_axis(p.yaxis[0], 11, 13, 3, 0, 1, standoff=3, lab_standoff=3)
    p.xaxis.axis_line_color = None
    p.yaxis.axis_line_color = None
    mirror_ticks(p, "above", INSET_X_TICKS, 3, 1)
    mirror_ticks(p, "right", INSET_Y_TICKS, 3, 1)
    return p


inset(643, 528, 111, 113, (0.0, 1.25), insL_rate, insL_err_x, insL_err_lo, insL_err_hi,
      insL_sq_x, insL_sq_y, insL_sq_lo, insL_sq_hi)
inset(1043, 559, 108, 110, (0.0, 1.2), insR_rate, insR_err_x, insR_err_lo, insR_err_hi,
      insR_sq_x, insR_sq_y, insR_sq_lo, insR_sq_hi)

# ---------- text labels ----------
BOLD = "font-family:'Liberation Sans',Arial,sans-serif;font-weight:bold;font-size:26px;line-height:30px;margin:0;white-space:nowrap;"
div(f"<div style=\"{BOLD}\">A</div>", 9, 10, 40, 32)
div(f"<div style=\"{BOLD}\">B</div>", 8, 404, 40, 32)
div(f"<div style=\"{BOLD}\">C</div>", 431, 396, 40, 32)
TITLE = BOLD + "text-align:center;width:220px;"
div(f"<div style=\"{TITLE}\">k<sub style='font-size:16px'>+</sub> free</div>", 170, 9, 220, 34)
div(f"<div style=\"{TITLE}\">k<sub style='font-size:16px'>2</sub> free</div>", 557, 9, 220, 34)
div(f"<div style=\"{TITLE}\">k<sub style='font-size:16px'>n</sub> free</div>", 935, 9, 220, 34)

layout = GridBox(children=[(c, 0, 0) for c in placed])

open("out.html", "w").write(file_html(layout, INLINE, title="Zn kinetics"))
